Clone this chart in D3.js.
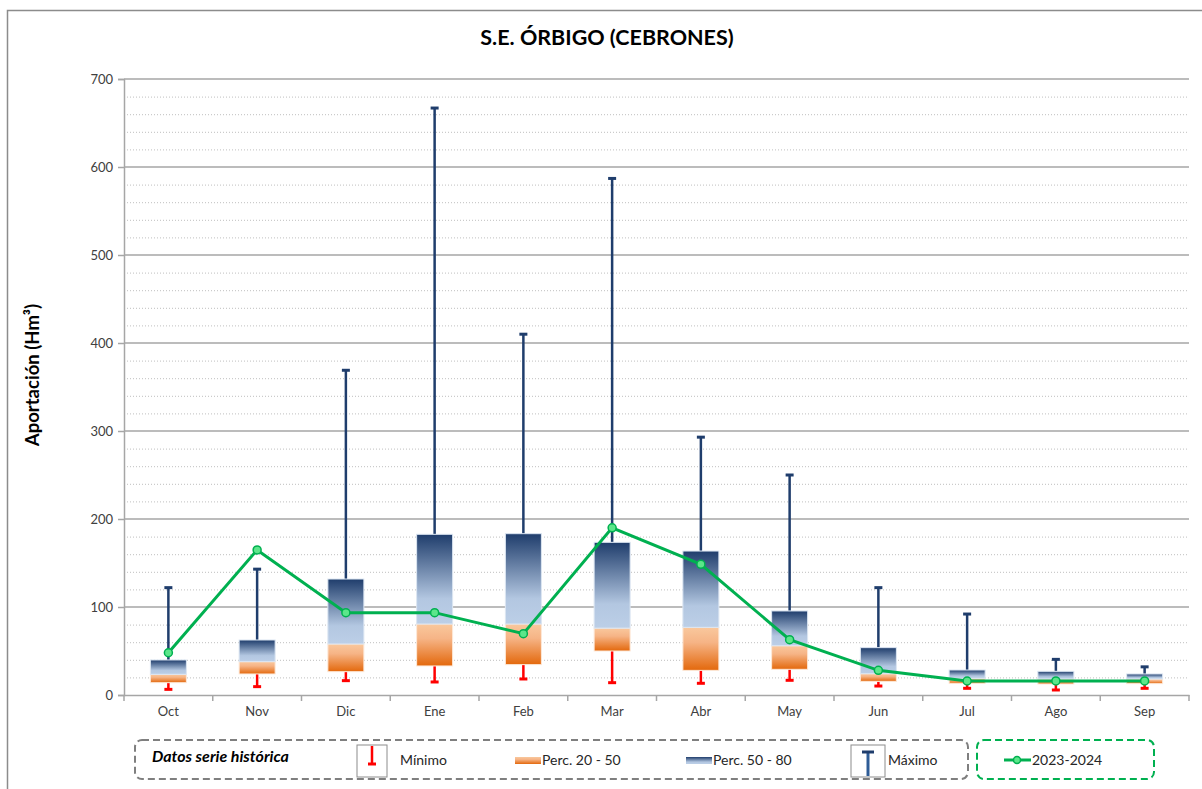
<!DOCTYPE html>
<html><head><meta charset="utf-8">
<script src="https://cdn.jsdelivr.net/npm/d3@7"></script>
<style>
html,body{margin:0;padding:0;background:#fff;}
svg{display:block;font-family:Lato,"Open Sans",sans-serif;}
</style></head><body>
<svg id="chart" width="1202" height="789"></svg>
<script>
const months = ["Oct","Nov","Dic","Ene","Feb","Mar","Abr","May","Jun","Jul","Ago","Sep"];
const minimo = [6.4, 9.5, 16.3, 14.8, 18.2, 14, 13.3, 16.7, 10.2, 7.6, 5.7, 7.6];
const perc20 = [14, 23.9, 26.5, 33, 34.5, 50, 28, 29.2, 15.5, 13.3, 12.5, 12.9];
const perc50 = [23.5, 37.9, 58, 80.7, 80.7, 76, 76.9, 56, 24.2, 19, 18.2, 18.2];
const perc80 = [39.8, 62.5, 131.8, 182.6, 183.3, 173.5, 163.6, 95.5, 53.8, 28.4, 26.9, 23.9];
const maximo = [122, 143, 369, 667, 410, 587, 293, 250, 122, 92, 40.5, 32];
const serie2324 = [48, 164.8, 93.6, 93.6, 69.7, 190, 148.5, 62.9, 28, 15.9, 16, 16];
const yTicks = [0,100,200,300,400,500,600,700];
const title = "S.E. ÓRBIGO (CEBRONES)";
const yLabel = "Aportación (Hm³)";
const legendLabels = ["Datos serie histórica","Mínimo","Perc. 20 - 50","Perc. 50 - 80","Máximo","2023-2024"];

const svg = d3.select("#chart");
const pLeft = 124, pRight = 1189, pTop = 79, pBottom = 695;
const x = d3.scaleBand().domain(months).range([pLeft, pRight]);
const y = d3.scaleLinear().domain([0, 700]).range([pBottom, pTop]);

const defs = svg.append("defs");
const gb = defs.append("linearGradient").attr("id","gBlue").attr("x1",0).attr("y1",0).attr("x2",0).attr("y2",1);
gb.append("stop").attr("offset",0).attr("stop-color","#1f3d6c");
gb.append("stop").attr("offset",0.72).attr("stop-color","#b3c7e1");
gb.append("stop").attr("offset",1).attr("stop-color","#bccfe7");
const go = defs.append("linearGradient").attr("id","gOrange").attr("x1",0).attr("y1",0).attr("x2",0).attr("y2",1);
go.append("stop").attr("offset",0).attr("stop-color","#f9c89d");
go.append("stop").attr("offset",0.35).attr("stop-color","#f6b486");
go.append("stop").attr("offset",1).attr("stop-color","#e3680c");

// outer border
svg.append("rect").attr("x",7.5).attr("y",10.5).attr("width",1220).attr("height",800)
  .attr("fill","none").attr("stroke","#8c8c8c").attr("stroke-width",1.5);

// title
svg.append("text").attr("x",607).attr("y",45).attr("text-anchor","middle")
  .attr("font-size",21.5).attr("font-weight","bold").attr("fill","#000").text(title);

// grid
const minor = d3.range(0, 701, 20).filter(v => v % 100 !== 0);
svg.append("g").selectAll("line").data(minor).join("line")
  .attr("x1",pLeft).attr("x2",pRight).attr("y1",d=>y(d)+0.5).attr("y2",d=>y(d)+0.5)
  .attr("stroke","#bfbfbf").attr("stroke-width",1).attr("stroke-dasharray","1,2");
svg.append("g").selectAll("line").data(yTicks.filter(v=>v>0)).join("line")
  .attr("x1",pLeft).attr("x2",pRight).attr("y1",d=>y(d)).attr("y2",d=>y(d))
  .attr("stroke","#a6a6a6").attr("stroke-width",1.5);

// axes
const yAxis = svg.append("g").attr("transform",`translate(${pLeft},0)`)
  .call(d3.axisLeft(y).tickValues(yTicks).tickSize(6).tickPadding(5));
yAxis.select(".domain").attr("stroke","#a6a6a6").attr("stroke-width",1.5);
yAxis.selectAll(".tick line").attr("stroke","#a6a6a6").attr("stroke-width",1.5);
yAxis.selectAll("text").attr("font-size",13).attr("fill","#404040").attr("font-family","Lato, sans-serif");

const xAxis = svg.append("g").attr("transform",`translate(0,${pBottom})`)
  .call(d3.axisBottom(x).tickSize(0).tickPadding(12));
xAxis.select(".domain").attr("stroke","#a6a6a6").attr("stroke-width",1.5);
xAxis.selectAll("text").attr("font-size",13).attr("fill","#404040").attr("font-family","Lato, sans-serif");
const bounds = months.map(m => x(m)).concat([pRight]);
svg.append("g").selectAll("line").data(bounds).join("line")
  .attr("x1",d=>d).attr("x2",d=>d).attr("y1",pBottom).attr("y2",pBottom+6)
  .attr("stroke","#a6a6a6").attr("stroke-width",1.5);

// y label
svg.append("text").attr("transform","translate(39,375) rotate(-90)").attr("text-anchor","middle")
  .attr("font-size",18.5).attr("font-weight","bold").attr("fill","#000").text(yLabel);

// boxes
const bw = 36, cap = 8;
const cx = i => x(months[i]) + x.bandwidth()/2;
const idx = d3.range(months.length);
const g = svg.append("g");
g.selectAll(".wmax").data(idx).join("line")
  .attr("x1",cx).attr("x2",cx).attr("y1",i=>y(perc80[i])).attr("y2",i=>y(maximo[i]))
  .attr("stroke","#1f3d6c").attr("stroke-width",2.5);
g.selectAll(".cmax").data(idx).join("line")
  .attr("x1",i=>cx(i)-cap/2).attr("x2",i=>cx(i)+cap/2).attr("y1",i=>y(maximo[i])).attr("y2",i=>y(maximo[i]))
  .attr("stroke","#1f3d6c").attr("stroke-width",3);
g.selectAll(".wmin").data(idx).join("line")
  .attr("x1",cx).attr("x2",cx).attr("y1",i=>y(perc20[i])).attr("y2",i=>y(minimo[i]))
  .attr("stroke","#ff0000").attr("stroke-width",2.5);
g.selectAll(".cmin").data(idx).join("line")
  .attr("x1",i=>cx(i)-cap/2).attr("x2",i=>cx(i)+cap/2).attr("y1",i=>y(minimo[i])).attr("y2",i=>y(minimo[i]))
  .attr("stroke","#ff0000").attr("stroke-width",3);
g.selectAll(".bo").data(idx).join("rect")
  .attr("x",i=>cx(i)-bw/2).attr("width",bw)
  .attr("y",i=>y(perc50[i])).attr("height",i=>y(perc20[i])-y(perc50[i]))
  .attr("fill","url(#gOrange)").attr("stroke","#fde9d9").attr("stroke-width",1);
g.selectAll(".bb").data(idx).join("rect")
  .attr("x",i=>cx(i)-bw/2).attr("width",bw)
  .attr("y",i=>y(perc80[i])).attr("height",i=>y(perc50[i])-y(perc80[i]))
  .attr("fill","url(#gBlue)").attr("stroke","#dce6f2").attr("stroke-width",1);

// 2023-2024 line
svg.append("path").datum(idx)
  .attr("d", d3.line().x(cx).y(i=>y(serie2324[i])))
  .attr("fill","none").attr("stroke","#00b050").attr("stroke-width",3);
svg.append("g").selectAll("circle").data(idx).join("circle")
  .attr("cx",cx).attr("cy",i=>y(serie2324[i])).attr("r",4)
  .attr("fill","#5ce68a").attr("stroke","#00b050").attr("stroke-width",1.5);

// legend
const L = svg.append("g").attr("font-family","Lato, sans-serif").attr("font-size",14).attr("fill","#262626");
L.append("rect").attr("x",135).attr("y",740).attr("width",833).attr("height",39).attr("rx",7)
  .attr("fill","none").attr("stroke","#7f7f7f").attr("stroke-width",2).attr("stroke-dasharray","7,4");
L.append("rect").attr("x",977).attr("y",740).attr("width",177).attr("height",39).attr("rx",7)
  .attr("fill","none").attr("stroke","#00b050").attr("stroke-width",2).attr("stroke-dasharray","7,4");
L.append("text").attr("x",152).attr("y",762).attr("font-size",16).attr("font-weight","bold").attr("font-style","italic")
  .attr("fill","#000").text(legendLabels[0]);
L.append("rect").attr("x",357).attr("y",745).attr("width",30).attr("height",32).attr("fill","#fff").attr("stroke","#8c8c8c");
L.append("line").attr("x1",372).attr("x2",372).attr("y1",746).attr("y2",764).attr("stroke","#ff0000").attr("stroke-width",2.5);
L.append("line").attr("x1",368).attr("x2",376).attr("y1",764).attr("y2",764).attr("stroke","#ff0000").attr("stroke-width",3);
L.append("text").attr("x",400).attr("y",765).text(legendLabels[1]);
L.append("rect").attr("x",515).attr("y",757).attr("width",26).attr("height",7).attr("fill","url(#gOrange)");
L.append("text").attr("x",542).attr("y",765).text(legendLabels[2]);
L.append("rect").attr("x",686).attr("y",757).attr("width",26).attr("height",7).attr("fill","url(#gBlue)");
L.append("text").attr("x",713).attr("y",765).text(legendLabels[3]);
L.append("rect").attr("x",851).attr("y",745).attr("width",34).attr("height",32).attr("fill","#fff").attr("stroke","#8c8c8c");
L.append("line").attr("x1",868).attr("x2",868).attr("y1",752).attr("y2",776).attr("stroke","#2e5c96").attr("stroke-width",3);
L.append("line").attr("x1",862).attr("x2",874).attr("y1",752).attr("y2",752).attr("stroke","#1f3d6c").attr("stroke-width",3);
L.append("text").attr("x",888).attr("y",765).text(legendLabels[4]);
L.append("line").attr("x1",1004).attr("x2",1031).attr("y1",760).attr("y2",760).attr("stroke","#00b050").attr("stroke-width",3);
L.append("circle").attr("cx",1017).attr("cy",760).attr("r",3.5).attr("fill","#5ce68a").attr("stroke","#00b050").attr("stroke-width",1.5);
L.append("text").attr("x",1032).attr("y",765).text(legendLabels[5]);
</script>
</body></html>
